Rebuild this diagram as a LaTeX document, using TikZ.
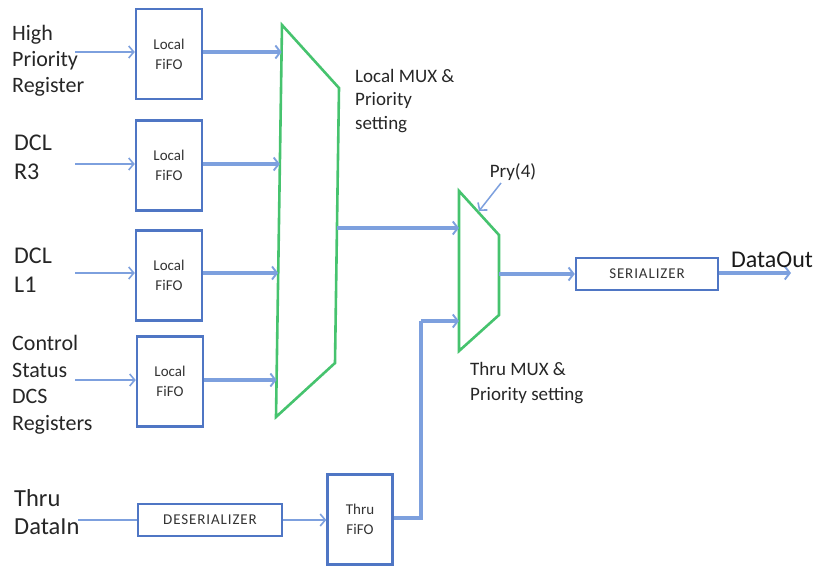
\documentclass[tikz,border=0pt]{standalone}
\usepackage{fontspec}
\setmainfont{Carlito}
\usetikzlibrary{arrows.meta}
\definecolor{boxblue}{RGB}{79,118,196}
\definecolor{arrblue}{RGB}{125,160,222}
\definecolor{muxgreen}{RGB}{70,195,110}
\begin{document}
\begin{tikzpicture}[x=1pt,y=-1pt,
  fifo/.style={draw=boxblue,line width=2.5pt,minimum width=66pt,minimum height=90pt,inner sep=0pt,align=center,font=\fontsize{15}{20}\selectfont,text=black!80},
  wide/.style={draw=boxblue,line width=2.5pt,minimum width=142pt,minimum height=32pt,inner sep=0pt,font=\fontsize{15}{16}\selectfont\addfontfeatures{LetterSpace=6},text=black!80},
  thin/.style={draw=arrblue,line width=1.5pt,-{Straight Barb[length=5pt,width=12pt,line width=1.6pt]}},
  thick/.style={draw=arrblue,line width=3.1pt,-{Straight Barb[length=5pt,width=13pt,line width=1.9pt]}},
  thickline/.style={draw=arrblue,line width=3.1pt},
  thinline/.style={draw=arrblue,line width=1.5pt},
  mux/.style={draw=muxgreen,line width=2.6pt,line join=miter},
  lbl/.style={anchor=west,align=left,inner sep=0pt,text=black!85}]
\useasboundingbox (0,0) rectangle (817,567);

% Local FiFo boxes
\node[fifo] (f1) at (169,54) {Local\\FiFO};
\node[fifo] (f2) at (169,165.5) {Local\\FiFO};
\node[fifo] (f3) at (169,275.5) {Local\\FiFO};
\node[fifo] (f4) at (170,381.5) {Local\\FiFO};

% Left labels
\node[lbl,font=\fontsize{22}{26}\selectfont] (l1) at (12,61) {High\\Priority\\Register};
\node[lbl,font=\fontsize{24}{29}\selectfont] (l2) at (14,157.5) {DCL\\R3};
\node[lbl,font=\fontsize{24}{29}\selectfont] (l3) at (14,270) {DCL\\L1};
\node[lbl,font=\fontsize{22}{26.5}\selectfont] (l4) at (12,385) {Control\\Status\\DCS\\Registers};
\node[lbl,font=\fontsize{24.5}{28}\selectfont] (l5) at (14,512) {Thru\\DataIn};

% input start points
\coordinate (i1) at (75,52);
\coordinate (i2) at (75,164);
\coordinate (i3) at (75,273);
\coordinate (i4) at (75,380);
\draw[thin] (i1) -- (f1.west|-i1);
\draw[thin] (i2) -- (f2.west|-i2);
\draw[thin] (i3) -- (f3.west|-i3);
\draw[thin] (i4) -- (f4.west|-i4);

% Local MUX
\coordinate (m1) at (282,25);
\coordinate (m2) at (339,88);
\coordinate (m3) at (335,363);
\coordinate (m4) at (276,417);
\draw[mux] (m1) -- (m2) -- (m3) -- (m4) -- cycle;
\coordinate (mi1) at (281.6,52);
\coordinate (mi2) at (279.9,164);
\coordinate (mi3) at (278.2,273);
\coordinate (mi4) at (276.6,380);
\coordinate (mo) at (337,228);
\draw[thick] (f1.east|-mi1) -- (mi1);
\draw[thick] (f2.east|-mi2) -- (mi2);
\draw[thick] (f3.east|-mi3) -- (mi3);
\draw[thick] (f4.east|-mi4) -- (mi4);
\node[lbl,font=\fontsize{19}{23.5}\selectfont] (lmux) at (355,101) {Local MUX \&\\Priority\\setting};

% Thru MUX
\coordinate (t1) at (459,191);
\coordinate (t2) at (499,235);
\coordinate (t3) at (499,315);
\coordinate (t4) at (459,351);
\draw[mux] (t1) -- (t2) -- (t3) -- (t4) -- cycle;
\coordinate (ti1) at (459,228);
\coordinate (ti2) at (459,321);
\coordinate (to) at (499,274);
\draw[thick] (mo) -- (ti1);
\node[lbl,font=\fontsize{19}{25}\selectfont] (tmux) at (470,383) {Thru MUX \&\\Priority setting};

% Pry(4)
\node[font=\fontsize{19}{22}\selectfont,inner sep=0pt,text=black!85] (pry) at (513,172) {Pry(4)};
\coordinate (pa) at (501,183);
\coordinate (pb) at (479,211);
\draw[thin] (pa) -- (pb);

% Serializer
\node[wide] (ser) at (647,274) {SERIALIZER};
\draw[thick] (to) -- (ser.west);
\coordinate (dout) at (791,273);
\draw[thick] (ser.east|-dout) -- (dout);
\node[font=\fontsize{24}{28}\selectfont,inner sep=0pt,text=black!90] (dlbl) at (772,260) {DataOut};

% Thru path
\node[wide,minimum width=144pt] (des) at (210,520) {DESERIALIZER};
\node[fifo,minimum width=65pt] (tf) at (360,519.5) {Thru\\FiFO};
\coordinate (din) at (78,520);
\draw[thinline] (din) -- (des.west);
\draw[thin] (des.east) -- (tf.west|-des.east);
\coordinate (bend) at (421,518);
\draw[thickline] (tf.east|-bend) -- (bend) -- (bend|-ti2);
\draw[thick] (bend|-ti2) -- (ti2);
\end{tikzpicture}
\end{document}
